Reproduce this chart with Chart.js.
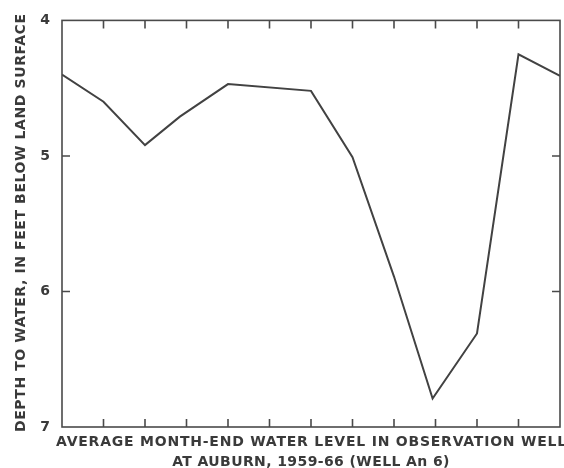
<!DOCTYPE html>
<html>
<head>
<meta charset="utf-8">
<script src="https://cdn.jsdelivr.net/npm/chart.js@4"></script>
<style>
  html, body { margin: 0; padding: 0; background: #fff; }
  #wrap { width: 564px; height: 468px; }
</style>
</head>
<body>
<div id="wrap"><canvas id="wellChart" width="564" height="468"></canvas></div>
<script>
// months from start of the water year (tick = 1 month)
const monthPos = [0, 1, 2, 2.84, 4, 6, 7, 8, 8.93, 10, 11, 12];
// average month-end depth to water, feet below land surface
const depthFt = [4.40, 4.60, 4.92, 4.71, 4.47, 4.52, 5.01, 5.89, 6.79, 6.31, 4.25, 4.41];
const depthTicks = [4, 5, 6, 7];
const xTitle = ['AVERAGE MONTH-END WATER LEVEL IN OBSERVATION WELL', 'AT AUBURN, 1959-66 (WELL An 6)'];
const yTitle = 'DEPTH TO WATER, IN FEET BELOW LAND SURFACE';

const ink = '#3a3a3a';
const fontFam = "'DejaVu Sans', 'Liberation Sans', sans-serif";
const titleFont = "600 14px " + fontFam;

// frame with inward tick marks on all four sides
const framePlugin = {
    id: 'frame',
    afterDatasetsDraw(chart) {
        const {ctx, chartArea: a, scales: {x, y}} = chart;
        const len = 8;
        ctx.save();
        ctx.strokeStyle = '#4a4a4a';
        ctx.lineWidth = 1.6;
        ctx.strokeRect(a.left, a.top, a.right - a.left, a.bottom - a.top);
        ctx.beginPath();
        for (let m = 1; m < 12; m++) {
            const px = x.getPixelForValue(m);
            ctx.moveTo(px, a.top); ctx.lineTo(px, a.top + len);
            ctx.moveTo(px, a.bottom); ctx.lineTo(px, a.bottom - len);
        }
        depthTicks.slice(1, -1).forEach(v => {
            const py = y.getPixelForValue(v);
            ctx.moveTo(a.left, py); ctx.lineTo(a.left + len, py);
            ctx.moveTo(a.right, py); ctx.lineTo(a.right - len, py);
        });
        ctx.stroke();
        ctx.restore();
    }
};

// axis titles drawn as canvas text so they can run past the plot edges like the original
const titlePlugin = {
    id: 'axisTitles',
    afterDraw(chart) {
        const {ctx, chartArea: a} = chart;
        ctx.save();
        ctx.fillStyle = ink;
        ctx.font = titleFont;

        // y title, rotated
        ctx.letterSpacing = '0.6px';
        ctx.translate(21, (a.top + a.bottom) / 2 - 1);
        ctx.rotate(-Math.PI / 2);
        ctx.textAlign = 'center';
        ctx.textBaseline = 'middle';
        ctx.fillText(yTitle, 0, 0);
        ctx.setTransform(1, 0, 0, 1, 0, 0);

        // x title: first line is set wider (runs off the right edge), second line normal
        ctx.textBaseline = 'alphabetic';
        ctx.textAlign = 'left';
        ctx.letterSpacing = '0px';
        const w0 = ctx.measureText(xTitle[0]).width;
        const spread = (511 - w0) / xTitle[0].length;
        ctx.letterSpacing = spread.toFixed(2) + 'px';
        ctx.fillText(xTitle[0], 56, 446);
        ctx.letterSpacing = '0.4px';
        ctx.textAlign = 'center';
        ctx.fillText(xTitle[1], 311, 465.5);
        ctx.restore();
    }
};

const ctx = document.getElementById('wellChart').getContext('2d');
new Chart(ctx, {
    type: 'line',
    data: {
        datasets: [{
            data: monthPos.map((m, i) => ({x: m, y: depthFt[i]})),
            borderColor: '#424242',
            borderWidth: 2,
            pointRadius: 0,
            tension: 0,
            fill: false
        }]
    },
    options: {
        responsive: false,
        animation: false,
        layout: { padding: { top: 14, right: 4, left: 0, bottom: 0 } },
        plugins: {
            legend: { display: false },
            tooltip: { enabled: false }
        },
        scales: {
            x: {
                type: 'linear',
                min: 0,
                max: 12,
                grid: { display: false, drawTicks: false },
                border: { display: false },
                ticks: { display: false, stepSize: 1 },
                afterFit(scale) { scale.height = 41; }
            },
            y: {
                type: 'linear',
                reverse: true,
                min: 4,
                max: 7,
                grid: { display: false, drawTicks: false },
                border: { display: false },
                afterBuildTicks(scale) {
                    scale.ticks = depthTicks.map(v => ({value: v}));
                },
                ticks: {
                    color: ink,
                    padding: 12,
                    font: { family: fontFam, size: 14, weight: 'bold' }
                },
                afterFit(scale) { scale.width = 62; }
            }
        }
    },
    plugins: [framePlugin, titlePlugin]
});
</script>
</body>
</html>
